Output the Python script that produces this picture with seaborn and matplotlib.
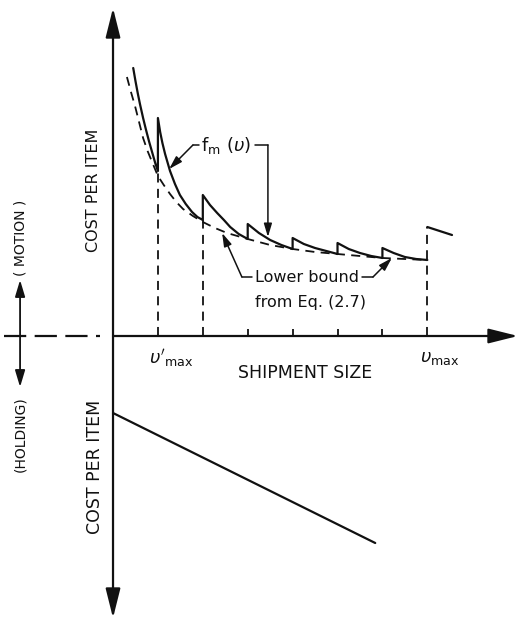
import matplotlib
matplotlib.use("Agg")
import matplotlib.pyplot as plt
import seaborn as sns
import pandas as pd

sns.set_theme(style="white")
plt.rcParams['font.family'] = ['DejaVu Sans']
plt.rcParams['mathtext.fontset'] = 'dejavusans'

# ---------------- data ----------------
# shipment size in units of v'_max tick spacing; cost in arbitrary units
tick_positions = [1, 2, 3, 4, 5, 6, 7]
minor_ticks = [3, 4, 5, 6]
v_prime_max = 1
v_max = 7

# motion cost per item, f_m(v): saw-tooth segments
seg1_x = [0.45, 0.50, 0.55, 0.60, 0.67, 0.73, 0.80, 0.87, 0.94, 1.00]
seg1_y = [26.8, 25.5, 24.3, 23.2, 21.8, 20.7, 19.5, 18.4, 17.3, 16.5]
seg2_x = [1.00, 1.05, 1.10, 1.16, 1.27, 1.38, 1.49, 1.62, 1.76, 1.88, 2.00]
seg2_y = [21.8, 20.4, 19.3, 18.2, 16.5, 15.2, 14.1, 13.2, 12.4, 11.9, 11.6]
seg3_x = [2.00, 2.16, 2.32, 2.47, 2.61, 2.80, 3.00]
seg3_y = [14.1, 13.1, 12.3, 11.6, 10.9, 10.2, 9.7]
seg4_x = [3.00, 3.25, 3.50, 3.75, 4.00]
seg4_y = [11.2, 10.3, 9.6, 9.1, 8.7]
seg5_x = [4.00, 4.25, 4.50, 4.75, 5.00]
seg5_y = [9.8, 9.2, 8.8, 8.5, 8.2]
seg6_x = [5.00, 5.25, 5.50, 5.75, 6.00]
seg6_y = [9.3, 8.7, 8.3, 8.0, 7.8]
seg7_x = [6.00, 6.25, 6.50, 6.75, 7.00]
seg7_y = [8.8, 8.3, 7.9, 7.7, 7.6]
seg8_x = [7.00, 7.55]
seg8_y = [10.9, 10.1]

# lower bound from Eq. (2.7)
bound_x = [0.31, 0.40, 0.49, 0.58, 0.67, 0.77, 0.87, 1.00, 1.13, 1.27, 1.41, 1.56, 1.78, 2.00,
           2.27, 2.54, 3.00, 3.50, 4.00, 4.50, 5.00, 5.50, 6.00, 6.50, 7.00]
bound_y = [25.9, 24.4, 23.0, 21.4, 19.8, 18.5, 17.4, 16.0, 15.1, 14.2, 13.4, 12.7, 12.0, 11.4,
           10.8, 10.3, 9.7, 9.1, 8.7, 8.4, 8.2, 8.0, 7.8, 7.7, 7.6]

# vertical dashed guide lines
guide_x = [1, 2, 7]
guide_top = [16.5, 11.6, 10.9]

# holding cost per item (negative direction)
holding_x = [0.0, 5.84]
holding_y = [-7.7, -20.7]

# ---------------- figure ----------------
fig = plt.figure(figsize=(5.19, 6.21), dpi=100)
ax = fig.add_axes([0, 0, 1, 1])
ax.set_xlim(-2.517, 9.042)
ax.set_ylim(-28.5, 33.6)
ax.axis('off')

K = '#111111'

# teeth 1-7 form one continuous saw-tooth (solid jumps); the piece after v_max is separate
seg_xs = [seg1_x, seg2_x, seg3_x, seg4_x, seg5_x, seg6_x, seg7_x, seg8_x]
seg_ys = [seg1_y, seg2_y, seg3_y, seg4_y, seg5_y, seg6_y, seg7_y, seg8_y]
rows = []
for i, (xs, ys) in enumerate(zip(seg_xs, seg_ys)):
    unit = 0 if i < 7 else 1
    for xv, yv in zip(xs, ys):
        rows.append({'size': xv, 'cost': yv, 'piece': unit})
motion_df = pd.DataFrame(rows)

sns.lineplot(data=motion_df, x='size', y='cost', units='piece', estimator=None,
             sort=False, color=K, linewidth=1.6, ax=ax, legend=False)

sns.lineplot(x=bound_x, y=bound_y, sort=False, color=K, linewidth=1.3,
             linestyle=(0, (5, 3.5)), ax=ax, legend=False)

sns.lineplot(x=holding_x, y=holding_y, sort=False, color=K, linewidth=1.6,
             ax=ax, legend=False)

ax.vlines(guide_x, 0, guide_top, colors=K, linewidth=1.3, linestyles=[(0, (5, 3.5))])
ax.vlines(minor_ticks, 0, 0.7, colors=K, linewidth=1.3)

# axes with arrows
ax.annotate('', xy=(0, 32.8), xytext=(0, -28.2),
            arrowprops=dict(arrowstyle='<|-|>,head_length=1.8,head_width=0.45',
                            mutation_scale=10, color=K, lw=1.6,
                            shrinkA=0, shrinkB=0))
ax.annotate('', xy=(9.02, 0), xytext=(0, 0),
            arrowprops=dict(arrowstyle='-|>,head_length=1.8,head_width=0.45',
                            mutation_scale=10, color=K, lw=1.6,
                            shrinkA=0, shrinkB=0))
ax.plot([-2.42, -0.29], [0, 0], color=K, lw=1.6, linestyle=(0, (10, 3.8)))

# motion / holding direction arrow
ax.annotate('', xy=(-2.07, 5.6), xytext=(-2.07, -5.1),
            arrowprops=dict(arrowstyle='<|-|>,head_length=1.0,head_width=0.3',
                            mutation_scale=10, color=K, lw=1.3,
                            shrinkA=0, shrinkB=0))

# labels
ax.text(-0.445, 14.6, 'COST PER ITEM', rotation=90, ha='center', va='center',
        fontsize=11.5, color=K)
ax.text(-0.40, -13.1, 'COST PER ITEM', rotation=90, ha='center', va='center',
        fontsize=12.5, color=K)
ax.text(-2.07, 9.8, '( MOTION )', rotation=90, ha='center', va='center',
        fontsize=10, color=K)
ax.text(-2.07, -9.8, '(HOLDING)', rotation=90, ha='center', va='center',
        fontsize=10, color=K)
ax.text(4.27, -3.7, 'SHIPMENT SIZE', ha='center', va='center', fontsize=12.5, color=K)
ax.text(1.29, -2.2, r"$\upsilon'_{\mathrm{max}}$", ha='center', va='center',
        fontsize=13, color=K)
ax.text(7.28, -2.2, r"$\upsilon_{\mathrm{max}}$", ha='center', va='center',
        fontsize=13, color=K)
ax.text(2.52, 19.1, r"f$_{\mathrm{m}}$ ($\upsilon$)", ha='center', va='center',
        fontsize=13, color=K)
ax.text(3.16, 5.8, 'Lower bound', ha='left', va='center', fontsize=11.5, color=K)
ax.text(3.16, 3.4, 'from Eq. (2.7)', ha='left', va='center', fontsize=11.5, color=K)

# leader lines
leaders = [
    ([1.915, 1.78], [19.1, 19.1], (1.25, 16.7)),
    ([3.16, 3.45], [19.1, 19.1], (3.45, 9.9)),
    ([3.10, 2.87], [5.9, 5.9], (2.43, 10.3)),
    ([5.55, 5.79], [5.9, 5.9], (6.21, 7.8)),
]
for lx, ly, tip in leaders:
    ax.plot(lx, ly, color=K, lw=1.1)
    ax.annotate('', xy=tip, xytext=(lx[-1], ly[-1]),
                arrowprops=dict(arrowstyle='-|>,head_length=1.0,head_width=0.3',
                                mutation_scale=8, color=K, lw=1.1,
                                shrinkA=0, shrinkB=0))

fig.savefig('out.png', dpi=100)
